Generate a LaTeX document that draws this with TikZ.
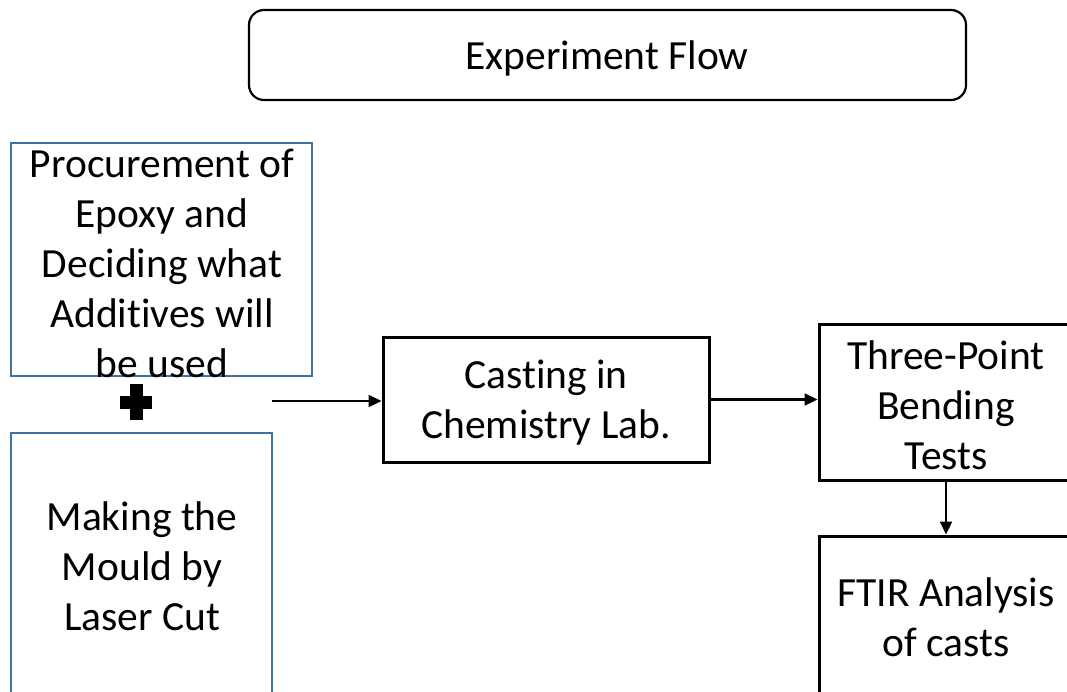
\documentclass[tikz,border=0pt]{standalone}
\usepackage{fontspec}
\setmainfont{Carlito}[Ligatures=NoCommon]
\usetikzlibrary{arrows.meta}
\definecolor{boxblue}{RGB}{65,113,156}
\begin{document}
\begin{tikzpicture}[x=1pt,y=-1pt,
  txt/.style={font=\fontsize{41.5}{50}\selectfont, align=center, inner sep=0pt},
  blackbox/.style={draw=black, line width=3pt, inner sep=0pt},
  bluebox/.style={draw=boxblue, line width=2.5pt, inner sep=0pt},
  arr/.style={line width=2.2pt, -{Triangle[length=13pt,width=12pt]}}]
\clip (0,0) rectangle (1067,691);
\fill[white] (0,0) rectangle (1067,691);
% title
\node[draw, line width=2.2pt, rounded corners=15pt, minimum width=717pt, minimum height=90pt, inner sep=0pt] (title) at (607.5,55) {};
\node[txt] (titletxt) at (607,58) {Experiment Flow};
% left boxes
\node[bluebox, minimum width=301pt, minimum height=233pt] (proc) at (161.5,259.5) {};
\node[txt] (proctxt) at (162,263) {Procurement of\\Epoxy and\\Deciding what\\Additives will\\be used};
\fill (120,395.5) rectangle (152,408.5);
\fill (129.5,384) rectangle (142.5,420);
\node[bluebox, minimum width=261pt, minimum height=287pt] (mould) at (141.5,576.5) {};
\node[txt] (mouldtxt) at (142,566) {Making the\\Mould by\\Laser Cut};
% middle and right
\node[blackbox, minimum width=326pt, minimum height=125pt] (cast) at (546,399.5) {};
\node[txt] (casttxt) at (546,403) {Casting in\\Chemistry Lab.};
\node[blackbox, minimum width=254pt, minimum height=156pt] (three) at (946,402) {};
\node[txt] (threetxt) at (946,405) {Three-Point\\Bending\\Tests};
\node[blackbox, minimum width=254pt, minimum height=184pt] (ftir) at (946,628) {};
\node[txt] (ftirtxt) at (946,617) {FTIR Analysis\\of casts};
% connectors
\coordinate (a1) at (272,401);
\draw[arr] (a1) -- (a1 -| cast.west);
\draw[arr] (cast.east) -- (cast.east -| three.west);
\draw[arr] (three.south) -- (ftir.north);
\end{tikzpicture}
\end{document}
